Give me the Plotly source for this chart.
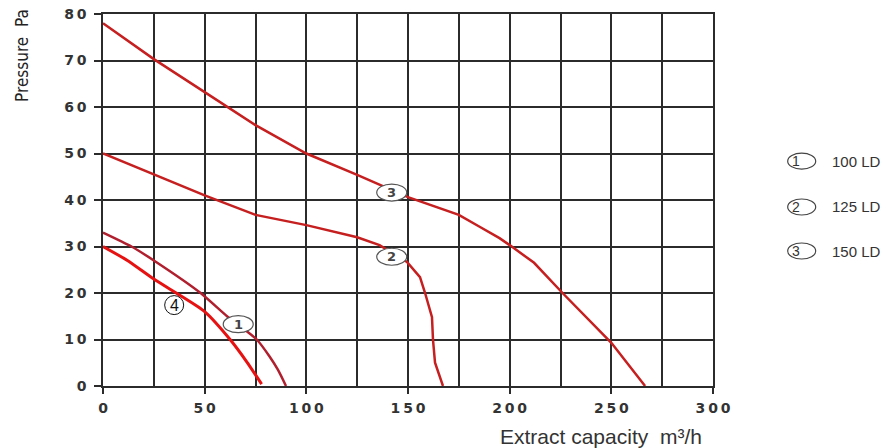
import plotly.graph_objects as go

# ---- data ----
c1_x = [0, 14, 25, 48, 61, 67, 75.6, 82, 86, 90]
c1_y = [33, 30, 27, 20, 15, 13, 10, 6.3, 3.5, 0]

c2_x = [0, 25, 50, 75, 100, 125, 136, 149.5, 155.9, 158.4, 161.8, 162.3, 163.3, 167.2]
c2_y = [50, 45.5, 41, 36.8, 34.6, 32, 30.3, 26.7, 23.4, 20, 14.8, 9.9, 5, 0]

c3_x = [0, 25, 50, 75, 100, 125, 150, 175, 185, 195, 200, 212, 226, 250, 266.6]
c3_y = [78, 70.3, 63.2, 56.1, 50, 45.4, 40.6, 36.8, 34.3, 31.8, 30.3, 26.5, 20, 9.3, 0]

c4_x = [0, 12, 25, 36, 50, 62.5, 70.7, 78]
c4_y = [30, 27, 23, 20, 16, 10, 5.2, 0.4]

label_names = ["1", "2", "3"]
label_x = [66.5, 142, 142]
label_y = [13.3, 27.8, 41.6]
label4_name = "4"
label4_x = [35]
label4_y = [17.4]

legend_nums = ["1", "2", "3"]
legend_texts = ["100 LD", "125 LD", "150 LD"]

x_ticks = [0, 50, 100, 150, 200, 250, 300]
y_ticks = [0, 10, 20, 30, 40, 50, 60, 70, 80]

# ---- figure ----
fig = go.Figure()
dark_red = "#b01f2e"
red = "#c61f20"
bright = "#e61212"

fig.add_trace(go.Scatter(x=c3_x, y=c3_y, mode="lines", line=dict(color=red, width=2.5), showlegend=False))
fig.add_trace(go.Scatter(x=c2_x, y=c2_y, mode="lines", line=dict(color=red, width=2.5), showlegend=False))
fig.add_trace(go.Scatter(x=c1_x, y=c1_y, mode="lines", line=dict(color=dark_red, width=2.5, shape="spline", smoothing=0.6), showlegend=False))
fig.add_trace(go.Scatter(x=c4_x, y=c4_y, mode="lines", line=dict(color=bright, width=3, shape="spline", smoothing=0.6), showlegend=False))

def spaced(v):
    return "\u2009".join(str(v))

grid_col = "#2b2b2b"
tick_font = dict(family="DejaVu Sans", size=14, color="#333333", weight="bold")

fig.update_xaxes(range=[0, 300], tickvals=x_ticks, ticktext=[spaced(v) for v in x_ticks],
                 showgrid=True, gridcolor=grid_col, gridwidth=1.5,
                 minor=dict(dtick=25, showgrid=True, gridcolor=grid_col, gridwidth=1.5),
                 ticks="outside", ticklen=6, tickwidth=1.5, tickcolor=grid_col,
                 showline=True, linecolor=grid_col, linewidth=1.5, mirror=True,
                 zeroline=False, tickfont=tick_font, ticklabeloverflow="allow", ticklabelstandoff=2,
                 automargin=False)
fig.update_yaxes(range=[0, 80], tickvals=y_ticks, ticktext=[spaced(v) for v in y_ticks],
                 showgrid=True, gridcolor=grid_col, gridwidth=1.5,
                 ticks="outside", ticklen=7, tickwidth=1.5, tickcolor=grid_col,
                 showline=True, linecolor=grid_col, linewidth=1.5, mirror=True,
                 zeroline=False, tickfont=tick_font, ticklabeloverflow="allow", ticklabelstandoff=5,
                 automargin=False)

shapes = []
annotations = []
for n, x, y in zip(label_names, label_x, label_y):
    shapes.append(dict(type="circle", xref="x", yref="y", xsizemode="pixel", ysizemode="pixel",
                       xanchor=x, yanchor=y, x0=-15, x1=15, y0=-8.5, y1=8.5,
                       line=dict(color="#555555", width=1.2), fillcolor="white", layer="above"))
    annotations.append(dict(x=x, y=y, xref="x", yref="y", text=n, showarrow=False,
                            font=dict(family="DejaVu Sans", size=13, color="#444444", weight="bold")))
for x, y in zip(label4_x, label4_y):
    shapes.append(dict(type="circle", xref="x", yref="y", xsizemode="pixel", ysizemode="pixel",
                       xanchor=x, yanchor=y, x0=-9.5, x1=9.5, y0=-9.5, y1=9.5,
                       line=dict(color="#111111", width=1), fillcolor="white", layer="above"))
    annotations.append(dict(x=x, y=y, xref="x", yref="y", text=label4_name, showarrow=False,
                            font=dict(family="Liberation Sans", size=16, color="#111111")))

# legend on the right (paper coordinates)
leg_y = [0.6045, 0.4812, 0.3629]
for n, t, yy in zip(legend_nums, legend_texts, leg_y):
    shapes.append(dict(type="circle", xref="paper", yref="paper", xsizemode="pixel", ysizemode="pixel",
                       xanchor=1.1454, yanchor=yy, x0=-14, x1=14, y0=-8, y1=8,
                       line=dict(color="#444444", width=1.2), fillcolor="white"))
    annotations.append(dict(x=1.1454, y=yy, xref="paper", yref="paper", text=n, showarrow=False,
                            font=dict(family="Liberation Sans", size=14, color="#333333")))
    annotations.append(dict(x=1.1916, y=yy, xref="paper", yref="paper", text=t, showarrow=False,
                            xanchor="left", font=dict(family="Liberation Sans", size=15, color="#333333")))

annotations.append(dict(x=-0.133, y=1.02, xref="paper", yref="paper", text="Pressure\u00a0\u00a0Pa",
                        showarrow=False, textangle=-90, xanchor="center", yanchor="top",
                        font=dict(family="Liberation Sans Narrow, DejaVu Sans Condensed", size=17, color="#222222")))
annotations.append(dict(x=0.816, y=-0.137, xref="paper", yref="paper", text="Extract capacity\u00a0\u00a0m³/h",
                        showarrow=False, xanchor="center", yanchor="middle",
                        font=dict(family="Liberation Sans", size=21, color="#333333")))

fig.update_layout(width=893, height=448, margin=dict(l=103, r=180, t=14, b=62),
                  paper_bgcolor="white", plot_bgcolor="white",
                  shapes=shapes, annotations=annotations, showlegend=False)

# remove the browser's default 8px body margin so the figure sits at the page's top-left corner
fig.write_html("out.html", config={"displayModeBar": False},
               post_script="document.body.style.margin='0';")
